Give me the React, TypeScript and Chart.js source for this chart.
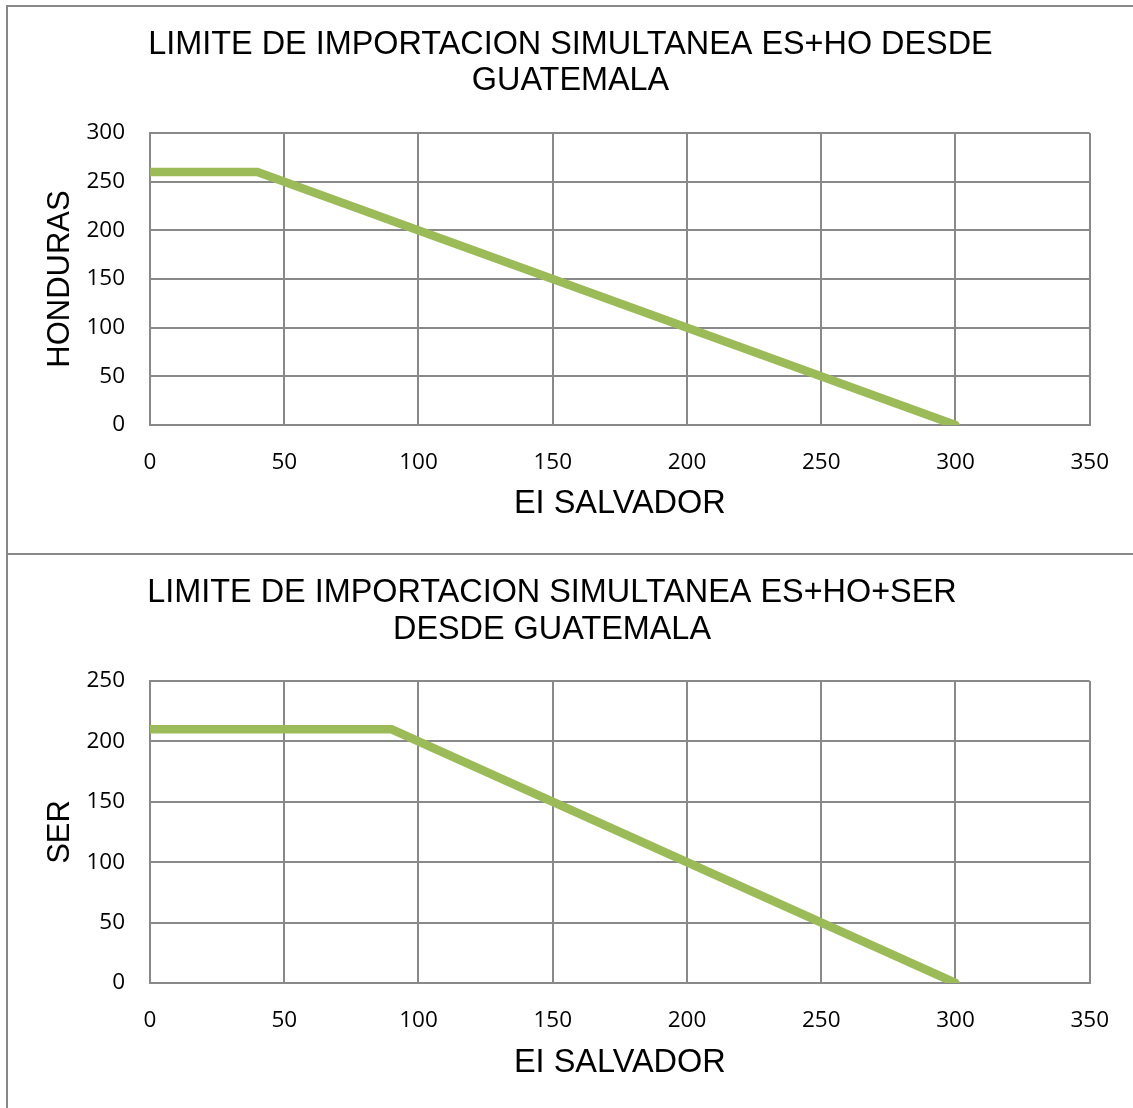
import React, { useEffect, useRef } from "react";
import { Chart, registerables } from "chart.js";
Chart.register(...registerables);

// Chart 1: ES + HO
const salvador1 = [0, 40, 300];
const honduras = [260, 260, 0];
// Chart 2: ES + HO + SER
const salvador2 = [0, 90, 300];
const ser = [210, 210, 0];

const title1 = ["LIMITE DE IMPORTACION SIMULTANEA ES+HO DESDE", "GUATEMALA"];
const title2 = ["LIMITE DE IMPORTACION SIMULTANEA ES+HO+SER", "DESDE GUATEMALA"];
const xAxisTitle = "EI SALVADOR";
const yTitle1 = "HONDURAS";
const yTitle2 = "SER";
const xMax = 350;
const yMax1 = 300;
const yMax2 = 250;
const tickStep = 50;

const GRID = "#898989";
const LINE = "#9BBB59";
const TICK_FONT = { family: "'Open Sans', 'Noto Sans', sans-serif", size: 22.5 };
const TITLE_FAMILY = "'Liberation Sans', Arial, sans-serif";

type Props = {
  top: number;
  height: number;
  title: string[];
  yTitle: string;
  xs: number[];
  ys: number[];
  yMax: number;
  plotBottom: number; // in canvas coords
  xTitleCenter: number; // in canvas coords
  titleRightPad: number;
  line2Center: number;
};

function LineChart({ top, height, title, yTitle, xs, ys, yMax, plotBottom, xTitleCenter, titleRightPad, line2Center }: Props) {
  const ref = useRef<HTMLCanvasElement | null>(null);
  useEffect(() => {
    if (!ref.current) return;
    const titleSize = 32.4;
    const titleLinePx = line2Center - 38;
    const titleLH = titleLinePx / titleSize;
    const titleTopPad = 38 - titleLinePx / 2;
    const titleBottomPad = 126 - titleTopPad - titleLinePx * title.length;
    const xTitleSize = 32.5;
    const yTitleSize = 31;
    const axisLH = 1.2;
    const xHalf = (xTitleSize * axisLH) / 2;
    const yHalf = (yTitleSize * axisLH) / 2;
    const chart = new Chart(ref.current, {
      type: "line",
      data: {
        datasets: [
          {
            data: xs.map((x, i) => ({ x, y: ys[i] })),
            borderColor: LINE,
            backgroundColor: LINE,
            borderWidth: 8.5,
            pointRadius: 0,
            borderCapStyle: "round",
            borderJoinStyle: "miter",
            tension: 0,
            yAxisID: "y",
          },
        ],
      },
      options: {
        responsive: false,
        animation: false,
        devicePixelRatio: 1,
        layout: { padding: { left: 0, right: titleRightPad, top: 0, bottom: 0 } },
        plugins: {
          legend: { display: false },
          tooltip: { enabled: false },
          title: {
            display: true,
            text: title,
            color: "#000",
            font: { family: TITLE_FAMILY, size: titleSize, weight: "normal", lineHeight: titleLH },
            padding: { top: titleTopPad, bottom: titleBottomPad },
          },
        },
        scales: {
          x: {
            type: "linear",
            min: 0,
            max: xMax,
            ticks: { stepSize: tickStep, color: "#000", font: TICK_FONT, padding: 24, maxRotation: 0 },
            grid: { color: GRID, lineWidth: 2, drawTicks: false },
            border: { color: GRID, width: 2 },
            title: {
              display: true,
              text: xAxisTitle,
              color: "#000",
              font: { family: TITLE_FAMILY, size: xTitleSize, lineHeight: axisLH },
              padding: { top: 0, bottom: height - xTitleCenter - xHalf },
            },
            afterFit: (s: any) => {
              s.height = height - plotBottom;
            },
          },
          y: {
            type: "linear",
            min: 0,
            max: yMax,
            ticks: { stepSize: tickStep, color: "#000", font: TICK_FONT, padding: 25 },
            grid: { color: GRID, lineWidth: 2, drawTicks: false },
            border: { color: GRID, width: 2 },
            title: {
              display: true,
              text: yTitle,
              color: "#000",
              font: { family: TITLE_FAMILY, size: yTitleSize, lineHeight: axisLH },
              padding: { top: 52 - yHalf, bottom: 0 },
            },
            afterFit: (s: any) => {
              s.width = 142;
            },
          },
          yRight: {
            type: "linear",
            position: "right",
            display: true,
            min: 0,
            max: yMax,
            ticks: { display: false },
            grid: { display: false, drawTicks: false },
            border: { display: false },
            afterFit: (s: any) => {
              s.width = 41 - titleRightPad;
            },
          },
        },
      } as any,
    });
    return () => chart.destroy();
  }, []);
  return (
    <canvas
      ref={ref}
      width={1125}
      height={height}
      style={{ position: "absolute", left: 8, top, width: 1125, height }}
    />
  );
}

export default function App() {
  const border = "#888888";
  return (
    <div
      style={{
        position: "absolute",
        left: 0,
        top: 0,
        width: 1133,
        height: 1108,
        overflow: "hidden",
        background: "#fff",
      }}
    >
      <LineChart
        top={7}
        height={546}
        title={title1}
        yTitle={yTitle1}
        xs={salvador1}
        ys={honduras}
        yMax={yMax1}
        plotBottom={418}
        xTitleCenter={497}
        titleRightPad={0}
        line2Center={74}
      />
      <LineChart
        top={555}
        height={553}
        title={title2}
        yTitle={yTitle2}
        xs={salvador2}
        ys={ser}
        yMax={yMax2}
        plotBottom={428}
        xTitleCenter={508}
        titleRightPad={37}
        line2Center={75}
      />
      <div style={{ position: "absolute", left: 6, top: 5, width: 1127, height: 2, background: border }} />
      <div style={{ position: "absolute", left: 6, top: 553, width: 1127, height: 2, background: border }} />
      <div style={{ position: "absolute", left: 6, top: 5, width: 2, height: 1103, background: border }} />
    </div>
  );
}
